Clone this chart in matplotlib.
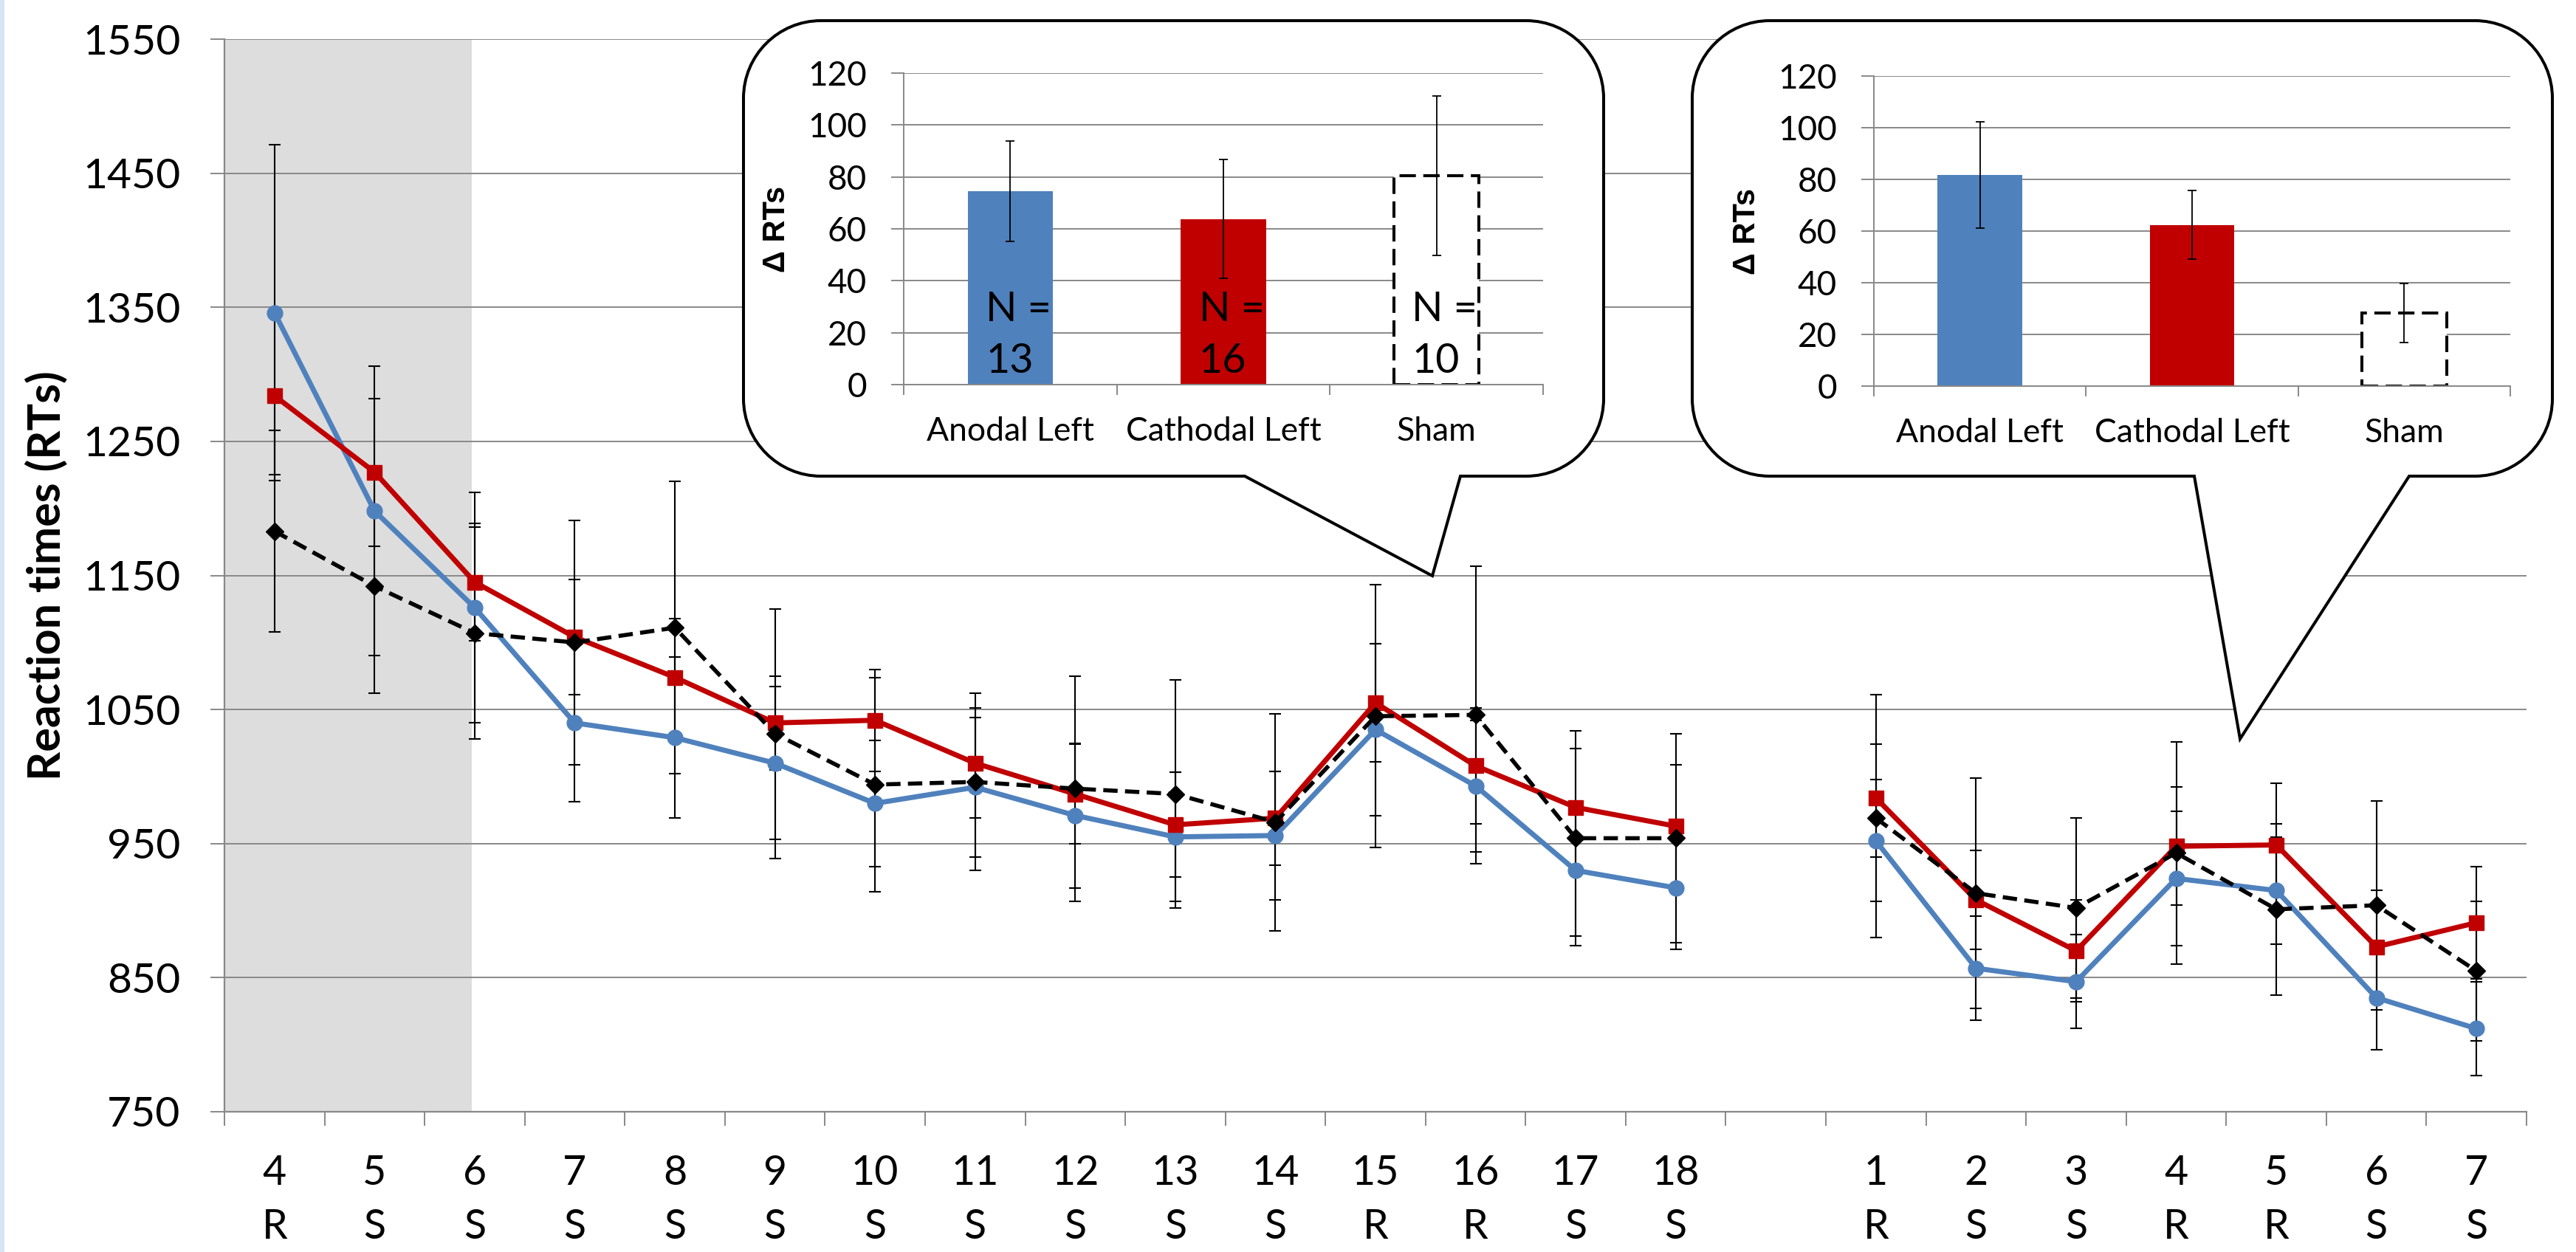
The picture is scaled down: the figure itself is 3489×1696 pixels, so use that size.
import numpy as np
import matplotlib
matplotlib.use('Agg')
import matplotlib.pyplot as plt
from matplotlib.path import Path
from matplotlib.patches import PathPatch, Rectangle

plt.rcParams['font.family'] = ['Lato', 'DejaVu Sans']

# session 1 (blocks 4-18) and session 2 (blocks 1-7)
s1_blocks = ['4', '5', '6', '7', '8', '9', '10', '11', '12', '13', '14', '15', '16', '17', '18']
s1_types = ['R', 'S', 'S', 'S', 'S', 'S', 'S', 'S', 'S', 'S', 'S', 'R', 'R', 'S', 'S']
s2_blocks = ['1', '2', '3', '4', '5', '6', '7']
s2_types = ['R', 'S', 'S', 'R', 'R', 'S', 'S']

anodal_s1 = [1346, 1198, 1126, 1040, 1029, 1010, 980, 992, 971, 955, 956, 1035, 993, 930, 917]
anodal_s1_err = [125, 108, 86, 59, 60, 57, 47, 52, 54, 48, 48, 64, 49, 49, 46]
cathodal_s1 = [1284, 1227, 1145, 1104, 1074, 1040, 1042, 1010, 987, 964, 969, 1055, 1008, 977, 963]
cathodal_s1_err = [59, 55, 44, 43, 44, 35, 38, 41, 37, 39, 35, 44, 43, 44, 46]
sham_s1 = [1183, 1142, 1107, 1100, 1111, 1032, 994, 996, 991, 987, 966, 1045, 1046, 954, 954]
sham_s1_err = [75, 80, 79, 91, 109, 93, 80, 66, 84, 85, 81, 98, 111, 80, 78]

anodal_s2 = [952, 857, 847, 924, 915, 835, 812]
anodal_s2_err = [72, 39, 35, 50, 40, 39, 35]
cathodal_s2 = [984, 908, 870, 948, 949, 873, 891]
cathodal_s2_err = [77, 37, 38, 44, 46, 42, 42]
sham_s2 = [969, 913, 902, 943, 901, 904, 855]
sham_s2_err = [29, 86, 67, 83, 64, 78, 52]

# insets: delta RTs
groups = ['Anodal Left', 'Cathodal Left', 'Sham']
delta1 = [74.5, 63.8, 80.4]
delta1_err = [19.2, 22.8, 30.7]
n_subjects = [13, 16, 10]
delta2 = [81.7, 62.3, 28.3]
delta2_err = [20.5, 13.3, 11.4]

BLUE = '#4F81BD'
RED = '#C00000'
GRID = '#888888'
W, H = 3489, 1696


def box(l, t, r, b):
    return [l / W, 1 - b / H, (r - l) / W, (b - t) / H]


def bubble(x0, y0, x1, y1, r, base_a, tip, base_b):
    k = 0.5523 * r
    verts = [(x0 + r, y0), (x1 - r, y0),
             (x1 - r + k, y0), (x1, y0 + r - k), (x1, y0 + r),
             (x1, y1 - r),
             (x1, y1 - r + k), (x1 - r + k, y1), (x1 - r, y1),
             (base_b, y1), tip, (base_a, y1),
             (x0 + r, y1),
             (x0 + r - k, y1), (x0, y1 - r + k), (x0, y1 - r),
             (x0, y0 + r),
             (x0, y0 + r - k), (x0 + r - k, y0), (x0 + r, y0),
             (x0 + r, y0)]
    codes = [Path.MOVETO, Path.LINETO,
             Path.CURVE4, Path.CURVE4, Path.CURVE4,
             Path.LINETO,
             Path.CURVE4, Path.CURVE4, Path.CURVE4,
             Path.LINETO, Path.LINETO, Path.LINETO,
             Path.LINETO,
             Path.CURVE4, Path.CURVE4, Path.CURVE4,
             Path.LINETO,
             Path.CURVE4, Path.CURVE4, Path.CURVE4,
             Path.CLOSEPOLY]
    return PathPatch(Path(verts, codes), facecolor='white', edgecolor='black', lw=2.9)


fig = plt.figure(figsize=(W / 100, H / 100), dpi=100)
fig.patches.append(Rectangle((0, 0), 6 / W, 1, transform=fig.transFigure,
                             facecolor='#d6e4f4', edgecolor='none'))

ax = fig.add_axes(box(304, 53, 3422, 1506))
ax.axvspan(-0.5, 1.97, color='#dddddd', lw=0, zorder=0)

x1 = np.arange(len(s1_blocks))
x2 = np.arange(len(s2_blocks)) + len(s1_blocks) + 1

series = [
    (anodal_s1, anodal_s1_err, anodal_s2, anodal_s2_err,
     dict(color=BLUE, lw=5, marker='o', ms=15)),
    (cathodal_s1, cathodal_s1_err, cathodal_s2, cathodal_s2_err,
     dict(color=RED, lw=5, marker='s', ms=14)),
    (sham_s1, sham_s1_err, sham_s2, sham_s2_err,
     dict(color='black', lw=4, marker='D', ms=12, dashes=(3.5, 1.8))),
]
for z, (a, ae, b, be, style) in enumerate(series):
    for xs, ys, es in [(x1, a, ae), (x2, b, be)]:
        ax.errorbar(xs, ys, yerr=es, fmt='none', ecolor='black', elinewidth=1.5,
                    capsize=5.5, capthick=1.5, zorder=2 + z)
        ax.plot(xs, ys, zorder=5 + z, **style)

labels = [f'{b}\n{t}' for b, t in zip(s1_blocks, s1_types)] + [''] + \
         [f'{b}\n{t}' for b, t in zip(s2_blocks, s2_types)]
ax.set_xticks(np.arange(len(labels)), labels)
ax.set_xticks(np.arange(-0.5, len(labels)), minor=True)
ax.set_xlim(-0.5, len(labels) - 0.5)
ax.set_ylim(750, 1550)
ax.set_yticks(np.arange(750, 1551, 100))
ax.tick_params(axis='x', which='major', length=0, pad=42, labelsize=40)
ax.tick_params(axis='x', which='minor', length=14, width=1.4, color=GRID)
ax.tick_params(axis='y', length=14, width=1.4, color=GRID, pad=29, labelsize=41)
for t in ax.get_xticklabels():
    t.set_linespacing(1.53)
ax.grid(axis='y', color=GRID, lw=1.4)
ax.set_axisbelow(True)
for s in ['top', 'right']:
    ax.spines[s].set_visible(False)
for s in ['left', 'bottom']:
    ax.spines[s].set_color(GRID)
    ax.spines[s].set_linewidth(1.6)
ax.set_ylabel('Reaction times (RTs)', fontweight='bold', fontsize=44)
ax.yaxis.set_label_coords(-0.0683, 0.5)

# callout shapes
ov = fig.add_axes([0, 0, 1, 1], zorder=3)
ov.set_xlim(0, W)
ov.set_ylim(H, 0)
ov.axis('off')
ov.patch.set_alpha(0)
ov.add_patch(bubble(1007, 28, 2172, 645, 105, 1686, (1940, 780), 1978))
ov.add_patch(bubble(2292, 28, 3457, 645, 105, 2972, (3034, 1001), 3263))


def inset(rect, vals, errs, nlabels=None):
    ia = fig.add_axes(rect, zorder=4)
    ia.patch.set_alpha(0)
    xs = np.arange(len(groups))
    ia.bar(xs[:2], vals[:2], width=0.4, color=[BLUE, RED], zorder=2)
    ia.bar(xs[2], vals[2], width=0.4, facecolor='white', edgecolor='black',
           lw=2.9, linestyle=(0, (5.5, 2.5)), zorder=2)
    ia.errorbar(xs, vals, yerr=errs, fmt='none', ecolor='black', elinewidth=1.3,
                capsize=4.5, capthick=1.3, zorder=3)
    if nlabels is not None:
        for xi, n in zip(xs, nlabels):
            ia.text(xi - 0.115, 18.9, f'N =\n{n}', ha='left', va='center',
                    fontsize=40, linespacing=1.48, zorder=4)
    ia.set_xlim(-0.5, 2.5)
    ia.set_ylim(0, 120)
    ia.set_yticks(np.arange(0, 121, 20))
    ia.set_xticks(xs, groups)
    ia.set_xticks(np.arange(-0.5, 3), minor=True)
    ia.tick_params(axis='x', which='major', length=0, pad=31, labelsize=32)
    ia.tick_params(axis='x', which='minor', length=10, width=1.4, color=GRID)
    ia.tick_params(axis='y', length=12, width=1.4, color=GRID, pad=24, labelsize=33)
    ia.grid(axis='y', color=GRID, lw=1.4)
    ia.set_axisbelow(True)
    for s in ['top', 'right']:
        ia.spines[s].set_visible(False)
    for s in ['left', 'bottom']:
        ia.spines[s].set_color(GRID)
        ia.spines[s].set_linewidth(1.4)
    ia.set_ylabel('\u0394 RTs', family='Liberation Sans', fontweight='bold', fontsize=30)
    ia.yaxis.set_label_coords(-0.176, 0.5)
    return ia


inset(box(1224, 99, 2090, 521), delta1, delta1_err, n_subjects)
inset(box(2538, 103, 3400, 523), delta2, delta2_err)

fig.savefig('out.png', dpi=100, facecolor='white')
